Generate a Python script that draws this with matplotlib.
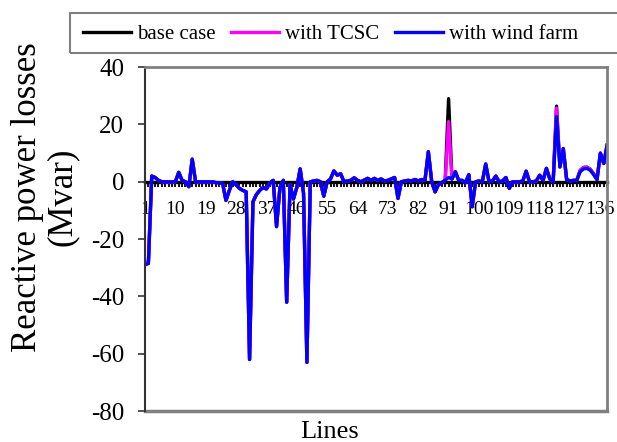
import matplotlib
matplotlib.use('Agg')
import matplotlib.pyplot as plt
from matplotlib.patches import Rectangle

# ======================
# DATA (reactive power losses per line, Mvar)
# ======================
lines = list(range(1, 139))

base_case = [
    -28.5, -28.5, 2, 1.5, 0.5, 0, 0, 0, 0, 0,
    3.3, 0.5, 0, -1.7, 7.9, 0, 0, 0, 0, 0,
    0, -0.3, -0.3, -0.5, -6.5, -3, 0, -1, -2.3, -3,
    -3.5, -62, -7, -4.5, -3, -2, -2.5, -0.5, 0.5, -15.5,
    -2, 0.5, -42, -1, -6, -2, 4.5, -4, -63, 0,
    0.3, 0.5, 0, -5, 0, 1, 3.8, 2.3, 2.8, 0,
    0.3, 0.5, 1.4, 0.5, 0, 0.6, 1.2, 0.5, 1.2, 0.5,
    1, 0.3, 0.5, 1, 1.5, -5.8, 0, 0.3, 0.5, 0.3,
    0.8, 0.3, 0.8, 0.5, 10.5, 0, -3.5, -1, -0.3, 0.6,
    29, 1, 3.5, 0.5, 0.5, -0.3, 2.5, -8.7, 0, 0.3,
    0, 6.2, 0, 0.3, 2, 0, 0.3, 1.5, -2.3, 0,
    0, 0, 0.3, 3.7, 0, 0, 0.3, 2.3, 0.5, 4.7,
    1, 0, 26.4, 5.2, 11.6, 0.8, 0.3, 0.5, 0.5, 4,
    5, 5.1, 4.4, 2.8, 0.8, 10, 6.4, 12.8,
]

with_tcsc = [
    -28, -28, 2, 1.5, 0.5, 0, 0, 0, 0, 0,
    3.3, 0.5, 0, -1.7, 7.9, 0, 0, 0, 0, 0,
    0, -0.3, -0.3, -0.5, -6.5, -3, 0, -1, -2.3, -3,
    -3.5, -62, -7, -4.5, -3, -2, -2.5, -0.5, 0.5, -15.5,
    -2, 0.5, -42, -1, -6, -2, 4.5, -4, -63, 0,
    0.3, 0.5, 0, -5, 0, 1, 3.8, 2.3, 2.8, 0,
    0.3, 0.5, 1.4, 0.5, 0, 0.6, 1.2, 0.5, 1.2, 0.5,
    1, 0.3, 0.5, 1, 1.5, -5.8, 0, 0.3, 0.5, 0.3,
    0.8, 0.3, 0.8, 0.5, 10.5, 0, -3.5, -1, -0.3, 0.6,
    21, 1, 3.5, 0.5, 0.5, -0.3, 2.5, -8.7, 0, 0.3,
    0, 6.2, 0, 0.3, 2, 0, 0.3, 1.5, -2.3, 0,
    0, 0, 0.3, 3.7, 0, 0, 0.3, 2.3, 0.5, 4.7,
    1, 0, 25.7, 5.2, 11.6, 0.8, 0.3, 0.5, 0.5, 4,
    5, 5.1, 4.4, 2.8, 0.8, 10, 6.4, 12.8,
]

with_wind = [
    -29, -28.5, 2, 1.5, 0.5, 0, 0, 0, 0, 0,
    3.3, 0.5, 0, -1.7, 7.9, 0, 0, 0, 0, 0,
    0, -0.3, -0.3, -0.5, -6.5, -3, 0, -1, -2.3, -3,
    -3.5, -62, -7, -4.5, -3, -2, -2.5, -0.5, 0.5, -15.7,
    -2, 0.5, -42, -1, -6, -2, 4.5, -4, -63, 0,
    0.3, 0.5, 0, -5, 0, 1, 3.8, 2.3, 2.8, 0,
    0.3, 0.5, 1.4, 0.5, 0, 0.6, 1.2, 0.5, 1.2, 0.5,
    1, 0.3, 0.5, 1, 1.5, -5.8, 0, 0.3, 0.5, 0.3,
    0.8, 0.3, 0.8, 0.5, 10.5, 0, -3.5, -1, -0.3, 0.6,
    1.5, 1, 3.5, 0.5, 0.5, -0.3, 2.5, -8.7, 0, 0.3,
    0, 6.2, 0, 0.3, 2, 0, 0.3, 1.5, -2.3, 0,
    0, 0, 0.3, 3.7, 0, 0, 0.3, 2.3, 0.5, 4.7,
    1, 0, 22.7, 5.2, 11.6, 0.8, 0.3, 0.5, 0.5, 3.5,
    4.5, 4.7, 4, 2.5, 0.8, 10, 6.4, 12.8,
]

tick_lines = list(range(1, 139, 9))
y_ticks = [-80, -60, -40, -20, 0, 20, 40]

# ======================
# PLOT
# ======================
plt.rcParams['font.family'] = ['Liberation Serif', 'DejaVu Serif']
plt.rcParams['axes.unicode_minus'] = False

fig = plt.figure(figsize=(6.17, 4.42), dpi=100)
ax = fig.add_axes([0.235, 0.070, 0.749, 0.778])

ax.plot(lines, base_case, color='black', lw=2.4, label='base case')
ax.plot(lines, with_tcsc, color='#FF00FF', lw=2.4, label='with TCSC')
ax.plot(lines, with_wind, color='#0000FF', lw=2.4, label='with wind farm')

ax.set_xlim(1, 138)
ax.set_ylim(-80, 40)

# category axis crossing at zero
ax.spines['bottom'].set_position(('data', 0))
ax.spines['bottom'].set_color('black')
ax.spines['bottom'].set_linewidth(2.4)
ax.spines['bottom'].set_zorder(1)
ax.spines['top'].set_color('#808080')
ax.spines['top'].set_linewidth(2)
ax.spines['right'].set_color('#808080')
ax.spines['right'].set_linewidth(2)
ax.spines['left'].set_color('#333333')
ax.spines['left'].set_linewidth(1.5)
ax.plot([0, 1], [0, 0], transform=ax.transAxes, color='#808080',
        lw=2.5, clip_on=False)

ax.set_xticks(tick_lines)
ax.set_xticklabels([str(t) for t in tick_lines])
ax.set_xticks(lines, minor=True)
ax.tick_params(axis='x', which='both', direction='out', length=3.5,
               width=1.3, color='black', labelsize=14, pad=10)
ax.set_yticks(y_ticks)
ax.tick_params(axis='y', direction='out', length=5, width=1.2,
               color='#333333', labelsize=18, pad=10)

ax.set_xlabel('Lines', fontsize=19, labelpad=0)
ax.xaxis.set_label_coords(0.4, -0.03)

fig.text(0.073, 0.555, 'Reactive power losses\n(Mvar)', rotation=90,
         fontsize=25, ha='center', va='center', multialignment='center',
         linespacing=1.1)

# legend box runs off the right edge, as in the original
leg = fig.legend(loc='center left', bbox_to_anchor=(0.134, 1 - 34 / 442),
                 ncol=3, fontsize=15, frameon=False,
                 handlelength=2.3, handletextpad=0.3, columnspacing=0.75,
                 borderpad=0, borderaxespad=0)
fig.patches.append(Rectangle((70 / 617, 1 - 53 / 442), 560 / 617, 40 / 442,
                             transform=fig.transFigure, fill=False,
                             edgecolor='#808080', lw=1.5))

fig.savefig('out.png', dpi=100)
